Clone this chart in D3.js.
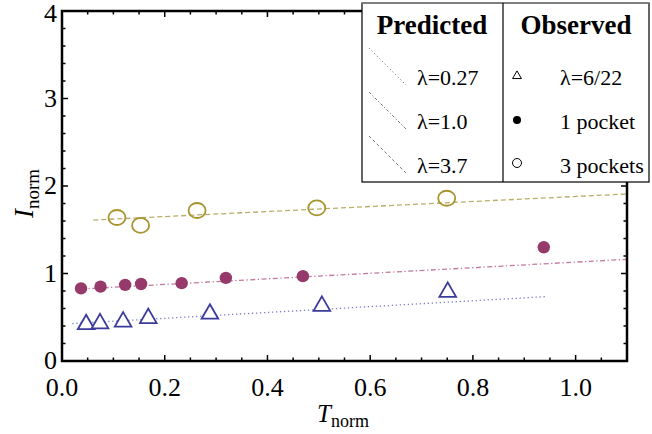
<!DOCTYPE html>
<html><head><meta charset="utf-8">
<script src="https://cdn.jsdelivr.net/npm/d3@7"></script>
<style>body{margin:0;background:#fff}svg{display:block}</style>
</head><body><svg id="c" width="652" height="434" font-family="'Liberation Serif', 'Times New Roman', Times, serif"></svg>
<script>
// Observed data
const triT = [0.047, 0.074, 0.119, 0.168, 0.288, 0.506, 0.751];
const triI = [0.43, 0.44, 0.46, 0.50, 0.55, 0.64, 0.80];
const dotT = [0.037, 0.075, 0.123, 0.154, 0.233, 0.319, 0.469, 0.938];
const dotI = [0.83, 0.85, 0.87, 0.88, 0.89, 0.95, 0.97, 1.30];
const cirT = [0.107, 0.153, 0.263, 0.496, 0.749];
const cirI = [1.64, 1.55, 1.72, 1.75, 1.86];
// Predicted lines (endpoints)
const line027T = [0.02, 0.94], line027I = [0.428, 0.735];
const line10T = [0.037, 1.1], line10I = [0.823, 1.162];
const line37T = [0.061, 1.1], line37I = [1.611, 1.909];
const xTicks = [0.0, 0.2, 0.4, 0.6, 0.8, 1.0];
const yTicks = [0, 1, 2, 3, 4];
const predLabels = ["λ=0.27", "λ=1.0", "λ=3.7"];
const obsLabels = ["λ=6/22", "1 pocket", "3 pockets"];

const FONT = "'Liberation Serif', 'Times New Roman', Times, serif";
const svg = d3.select("#c");
const x = d3.scaleLinear().domain([0, 1.1]).range([62, 627]);
const y = d3.scaleLinear().domain([0, 4]).range([361, 11]);

const cTri = "#3b3b9c", cDot = "#963a6c", cCir = "#a8942e";
const lTri = "#7c7cc8", lDot = "#c07a9e", lCir = "#b8ae6a";

// predicted lines
const ln = d3.line().x(d => x(d[0])).y(d => y(d[1]));
svg.append("path").attr("d", ln(d3.zip(line027T, line027I))).attr("stroke", lTri).attr("stroke-width", 1.3).attr("fill", "none").attr("stroke-dasharray", "1.3,2.7");
svg.append("path").attr("d", ln(d3.zip(line10T, line10I))).attr("stroke", lDot).attr("stroke-width", 1.3).attr("fill", "none").attr("stroke-dasharray", "5,2.5,1.3,2.5");
svg.append("path").attr("d", ln(d3.zip(line37T, line37I))).attr("stroke", lCir).attr("stroke-width", 1.3).attr("fill", "none").attr("stroke-dasharray", "5,3");

// observed markers
const tri = d3.symbol().type(d3.symbolTriangle).size(120);
svg.append("g").selectAll("path").data(d3.zip(triT, triI)).join("path")
  .attr("d", tri).attr("transform", d => `translate(${x(d[0])},${y(d[1]) + 1})`)
  .attr("fill", "#fff").attr("stroke", cTri).attr("stroke-width", 1.8);
svg.append("g").selectAll("circle").data(d3.zip(dotT, dotI)).join("circle")
  .attr("cx", d => x(d[0])).attr("cy", d => y(d[1])).attr("r", 6.2).attr("fill", cDot);
svg.append("g").selectAll("ellipse").data(d3.zip(cirT, cirI)).join("ellipse")
  .attr("cx", d => x(d[0])).attr("cy", d => y(d[1])).attr("rx", 8.5).attr("ry", 7.5)
  .attr("fill", "none").attr("stroke", cCir).attr("stroke-width", 1.8);

// frame & ticks
const fr = svg.append("g");
fr.append("rect").attr("x", x(0)).attr("y", y(4)).attr("width", x(1.1) - x(0)).attr("height", y(0) - y(4))
  .attr("fill", "none").attr("stroke", "#000").attr("stroke-width", 2.5);
const xMinor = d3.range(0, 1.1001, 0.05);
const yMinor = d3.range(0, 4.0001, 0.2);
xMinor.forEach((v, i) => {
  const len = (i % 4 === 0) ? 6 : 3.5;
  fr.append("line").attr("x1", x(v)).attr("x2", x(v)).attr("y1", y(0)).attr("y2", y(0) - len).attr("stroke", "#000").attr("stroke-width", 1.5);
  fr.append("line").attr("x1", x(v)).attr("x2", x(v)).attr("y1", y(4)).attr("y2", y(4) + len).attr("stroke", "#000").attr("stroke-width", 1.5);
});
yMinor.forEach((v, i) => {
  const len = (i % 5 === 0) ? 6 : 3.5;
  fr.append("line").attr("y1", y(v)).attr("y2", y(v)).attr("x1", x(0)).attr("x2", x(0) + len).attr("stroke", "#000").attr("stroke-width", 1.5);
  fr.append("line").attr("y1", y(v)).attr("y2", y(v)).attr("x1", x(1.1)).attr("x2", x(1.1) - len).attr("stroke", "#000").attr("stroke-width", 1.5);
});
fr.selectAll("text.xt").data(xTicks).join("text").attr("class", "xt").attr("font-family", FONT)
  .attr("x", d => x(d)).attr("y", 396).attr("text-anchor", "middle").attr("font-size", 26).text(d => d3.format(".1f")(d));
fr.selectAll("text.yt").data(yTicks).join("text").attr("class", "yt").attr("font-family", FONT)
  .attr("x", 57).attr("y", d => Math.max(y(d) + 8, 22)).attr("text-anchor", "end").attr("font-size", 26).text(d => d);

// axis titles
const xl = svg.append("text").attr("x", 317).attr("y", 422).attr("font-size", 25).attr("font-family", FONT);
xl.append("tspan").attr("font-style", "italic").text("T");
xl.append("tspan").attr("font-size", 18).attr("dy", 5).text("norm");
const yl = svg.append("text").attr("transform", "translate(33,218) rotate(-90)").attr("font-size", 27).attr("font-family", FONT);
yl.append("tspan").attr("font-style", "italic").text("I");
yl.append("tspan").attr("font-size", 19).attr("dy", 6).text("norm");

// legend
const lg = svg.append("g");
lg.append("rect").attr("x", 362).attr("y", 3).attr("width", 287).attr("height", 179).attr("fill", "#fff").attr("stroke", "#000").attr("stroke-width", 1.2);
lg.append("line").attr("x1", 362).attr("x2", 649).attr("y1", 3).attr("y2", 3).attr("stroke", "#888").attr("stroke-width", 1.5);
lg.append("line").attr("x1", 503).attr("x2", 503).attr("y1", 3).attr("y2", 182).attr("stroke", "#000").attr("stroke-width", 1.2);
lg.append("text").attr("x", 432).attr("y", 34).attr("text-anchor", "middle").attr("font-size", 27).attr("font-weight", "bold").attr("font-family", FONT).text("Predicted");
lg.append("text").attr("x", 576).attr("y", 34).attr("text-anchor", "middle").attr("font-size", 27).attr("font-weight", "bold").attr("font-family", FONT).text("Observed");
const rowsY = [85, 129, 173];
const dashes = ["1.2,2.5", "3,2,1.2,2", "3,2.5"];
rowsY.forEach((ry, i) => {
  lg.append("line").attr("x1", 369).attr("y1", ry - 37).attr("x2", 406).attr("y2", ry)
    .attr("stroke", "#777").attr("stroke-width", 1).attr("stroke-dasharray", dashes[i]);
  lg.append("text").attr("x", 417).attr("y", ry).attr("font-size", 22).attr("font-family", FONT).text(predLabels[i]);
  lg.append("text").attr("x", 560).attr("y", ry).attr("font-size", 22).attr("font-family", FONT).text(obsLabels[i]);
});
lg.append("path").attr("d", d3.symbol().type(d3.symbolTriangle).size(34)).attr("transform", "translate(517,76)")
  .attr("fill", "#fff").attr("stroke", "#000").attr("stroke-width", 1);
lg.append("circle").attr("cx", 517).attr("cy", 120).attr("r", 4).attr("fill", "#000");
lg.append("circle").attr("cx", 517).attr("cy", 163).attr("r", 4.5).attr("fill", "none").attr("stroke", "#000").attr("stroke-width", 1);
</script></body></html>
